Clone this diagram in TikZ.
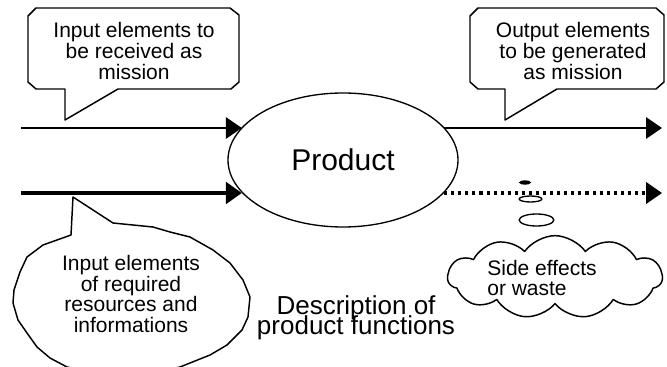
\documentclass[tikz,border=0pt]{standalone}
\usepackage{fontspec}
\setmainfont{Liberation Sans}
\usetikzlibrary{arrows.meta,shapes.symbols,shapes.geometric}
\lineskiplimit=-100pt
\begin{document}
\begin{tikzpicture}[x=0.75pt,y=-0.75pt,
  outl/.style={line width=1.1pt, line join=round},
  tip/.style={-{Triangle[length=12pt,width=16pt]}},
  txt/.style={font=\fontsize{15.75pt}{15.4pt}\selectfont, align=center, inner sep=0pt},
  bubble/.style={ellipse, draw, line width=1pt, inner sep=0pt},
]
\useasboundingbox (0,0) rectangle (667,367);
\clip (0,0) rectangle (667,367);
\fill[white] (0,0) rectangle (667,367);

% central product
\node[ellipse, draw, line width=1pt, minimum width=172.5pt, minimum height=100.5pt,
      inner sep=0pt, font=\fontsize{22.5pt}{27pt}\selectfont] (prod) at (343,160) {Product};

% free ends of connectors
\coordinate (in1) at (21,128);
\coordinate (in2) at (21,193);
\coordinate (out1) at (662,128);
\coordinate (out2) at (662,193);

\draw[tip, line width=1.5pt] (in1) -- (in1 -| prod.162);
\draw[tip, line width=3.4pt] (in2) -- (in2 -| prod.198);
\draw[tip, line width=1.6pt] (out1 -| prod.18) -- (out1);
\draw[tip, line width=2.3pt, dash pattern=on 2.3pt off 3pt] (out2 -| prod.-18) -- (out2);

% top-left callout
\draw[outl, fill=white] (28,16) -- (36,8) -- (230,8) -- (239,15) -- (239,82) -- (231,89)
  -- (118,89) -- (65,120) -- (65,89) -- (36,89) -- (28,82) -- cycle;
\node[txt] (t1) at (134,51) {Input elements to\\be received as\\mission};

% top-right callout
\draw[outl, fill=white] (470,16) -- (478,8) -- (656,8) -- (664,15) -- (664,82) -- (656,89)
  -- (557,89) -- (505,120) -- (505,89) -- (478,89) -- (470,82) -- cycle;
\node[txt] (t2) at (573,51) {Output elements\\to be generated\\as mission};

% bottom-left oval callout
\draw[outl, fill=white] (73,197) -- (71,235) -- (43,245) -- (27,257) -- (20,272) -- (14,290)
  -- (13,303) -- (18,320) -- (27,333) -- (37,347) -- (50,358) -- (67,367) -- (95,373)
  -- (140,375) -- (180,367) -- (190,363) -- (210,355) -- (227,345) -- (242,330)
  -- (248,317) -- (250,297) -- (243,280) -- (230,263) -- (213,250) -- (190,237)
  -- (170,232) -- (153,227) -- (113,223) -- cycle;
\node[txt] (t3) at (131,294) {Input elements\\of required\\resources and\\informations};

% thought bubbles and cloud
\node[bubble, fill=black, minimum width=7.5pt, minimum height=2.3pt] (b1) at (525,182.5) {};
\node[bubble, minimum width=17pt, minimum height=4.5pt] (b2) at (530.5,199) {};
\node[bubble, minimum width=26pt, minimum height=9pt] (b3) at (536.5,220) {};
\node[cloud, draw, outl, cloud puffs=11, cloud puff arc=110, aspect=2.6,
      minimum width=161pt, minimum height=62pt, inner sep=0pt] (waste) at (555,277) {};
\node[txt, align=left] (t4) at (542,278) {Side effects\\or waste};

% caption
\node[font=\fontsize{19.5pt}{15pt}\selectfont, align=center, inner sep=0pt] (desc) at (356,318)
  {Description of\\product functions};
\end{tikzpicture}
\end{document}
